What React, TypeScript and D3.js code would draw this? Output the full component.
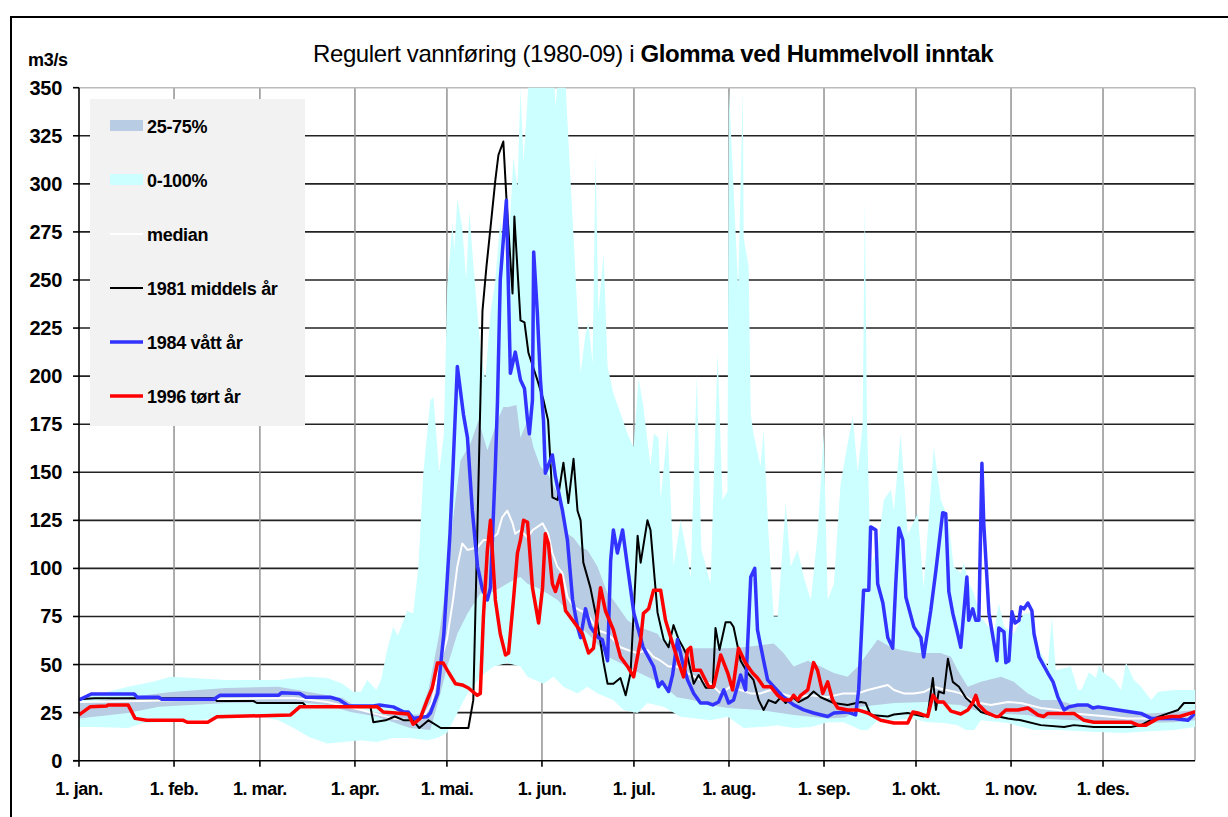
import React from 'react';
import * as d3 from 'd3';

type P = [number, number];

const monthLabels = ['1. jan.', '1. feb.', '1. mar.', '1. apr.', '1. mai.', '1. jun.', '1. jul.', '1. aug.', '1. sep.', '1. okt.', '1. nov.', '1. des.'];
const monthStarts = [0, 31, 59, 90, 120, 151, 181, 212, 243, 273, 304, 334];
const yTicks = [0, 25, 50, 75, 100, 125, 150, 175, 200, 225, 250, 275, 300, 325, 350];

const titleNormal = 'Regulert vannføring (1980-09) i ';
const titleBold = 'Glomma ved Hummelvoll inntak';
const yUnit = 'm3/s';

// 0-100% envelope
const maxFlow: P[] = [[0,33],[5,34],[16,38.5],[24,41],[30,43.6],[37,43],[48,42],[59,42],[65,42],[70,43],[75,43.6],[81,43],[86,40],[89.5,35.7],[92,36],[94,42],[97,36.8],[98.5,42],[100.5,57.6],[102.5,69.6],[104,65],[107,78],[109,76.6],[110.7,101],[112.3,149.5],[114.6,187.5],[115.6,189],[117.5,150],[119,170],[120.1,246],[121.8,279.5],[122.4,265],[123.4,292.5],[125,277],[126.3,250],[127.3,286],[128.6,258.6],[130.9,215],[132.5,198],[134.2,232.6],[135.8,250],[137.4,281],[139.1,257],[140.7,284.6],[141.7,314],[143,298],[144,350],[145,311],[146.6,352],[155,352],[155.5,340],[156,352],[158.7,352],[159.3,333],[160.9,284.6],[162.6,232.6],[163.6,201.5],[165.2,222],[166.2,227.5],[167.5,206.7],[168.5,316],[169.4,232.6],[171.1,264],[172.4,205],[174.3,191],[176.6,180.7],[178.9,170],[180.9,163],[182.5,199],[184.1,184],[186.4,153],[187.5,170],[189,168],[189.7,136],[192,173.5],[193.9,101],[196.2,125],[198.5,106],[199.5,95],[201.5,200.5],[203,110],[206,92],[208.3,212],[209.9,135.6],[211.5,140],[212,349],[215,246],[216.5,349],[216.8,272],[218.4,257],[219.1,180],[220,170],[222.3,153],[223.3,172],[224.9,118],[226.6,75],[227.9,75],[230.5,134],[232.1,101],[234.4,109.6],[236.4,95.5],[238.7,83.6],[240.9,118],[242.9,170],[244.2,83.6],[246.2,92],[248.4,144],[250.7,165],[252.4,179],[254,150],[255.6,175],[256.3,291.6],[257,178],[258.2,101],[260.5,111],[262.5,135.6],[264.8,141],[265.8,130],[268,170],[270.3,118],[273.6,128.5],[275.5,90],[278.8,163],[281.1,135.6],[283.4,126.5],[285.3,101],[287.6,97.5],[288.6,103],[289.9,94],[291.9,87],[294,75],[298.4,66],[300,82],[301.7,69.6],[304.9,66],[308.2,76.6],[311,76.6],[312.8,59],[316,49],[317.3,75],[318.6,47],[320.9,48],[323.5,49],[325.8,36.8],[327,37],[329.4,46],[331.7,43],[332.7,49.7],[334,46],[337.6,42],[339.9,36.8],[341.5,51],[344.1,42],[346.4,38.5],[349.7,31.6],[351.9,35.7],[357.2,36.8],[364,36.8]];
const minFlow: P[] = [[0,17.5],[5,17.5],[16,17],[21,19.6],[26,20],[37,21],[48,22],[59,22.8],[65,21],[70,17],[75,12.3],[81,9],[86,9.7],[92,10.7],[97,9.7],[102.5,11.8],[108,11.8],[113.6,10.7],[117,12],[120,14.4],[123.4,24.8],[126.7,35],[130.9,43.6],[135.2,49],[139.7,50.8],[144,49],[146.3,43.6],[151.5,40],[154.8,43.6],[158,38.5],[162.6,35],[165.8,38.5],[169.1,35],[174.3,31.6],[177.6,26.4],[182.2,24.8],[185.4,30],[190.7,28],[196.2,22.8],[206,21],[211.6,22.8],[216.8,17],[222.3,17.5],[227.9,18.5],[233.1,17],[238.7,17.5],[244.2,20],[249.4,20],[255,16],[257.3,16],[260.5,21],[265.8,21],[271.3,22],[276.8,20],[282.1,19.6],[286.6,18.5],[289.3,16],[291.9,16],[294.2,21],[303,19.6],[311.5,16],[319.3,16],[330.1,15],[340.8,14.4],[346.4,15],[357.2,16],[364,17.5]];

// 25-75% band
const q75: P[] = [[0,30],[16,33],[30,35.7],[48,37.8],[65,38.5],[75,35.7],[86,32.6],[92,26.4],[102.5,23.8],[111,24],[114,37],[117.5,66],[120.1,95.5],[122.1,126.5],[124.4,156],[127.7,165],[130.3,177],[133.2,161.5],[136.5,177],[138.4,184],[140,184],[142.7,185],[144,168],[146.3,177],[148.2,163],[150.5,153],[152.8,149.5],[157,135.6],[159.3,118],[161.3,116],[163.6,111],[165.8,109.6],[169.1,101],[172.4,87],[174.3,83.6],[178.9,73],[182.2,69.6],[185.4,68],[188.7,66],[190,63],[195.2,57.6],[200.5,58.5],[211.6,58.5],[216.8,59],[222.3,60],[226.6,61],[229.8,56],[233.1,49],[237.7,52],[241.9,49],[246.2,45.6],[250.7,43.6],[254,49],[257.3,56],[260.5,63],[264.8,59],[268,57.6],[273.6,56],[281,56],[284.4,54],[286.6,47],[289.9,38.5],[294.2,41],[300.7,43.6],[304.9,41],[309.5,35],[313.7,31.6],[319.3,31.6],[324.5,29],[330.1,28],[335.6,26.4],[342,25.3],[348.7,24.6],[357.2,25.3],[364,26.4]];
const q25: P[] = [[0,22],[16,24.8],[26,28],[48,30],[70,30.5],[81,29],[88.5,25.3],[97,23],[108,17],[114.6,16],[117.9,35],[120.1,49],[123.4,66],[126.7,76.6],[130.9,87],[134,87],[137.4,90],[141.7,94],[144,95.5],[146.3,92],[149.5,90],[152.8,87],[156.1,83.6],[159.3,78],[163.6,69.6],[167.8,63],[172.4,54],[176.6,50.8],[180.9,47],[185.4,43.6],[190,40],[195,33],[200,31.6],[206,29],[211.6,27.4],[222.3,26.4],[233.1,23.8],[244.2,22],[250,22.5],[255,28],[266,30],[276.8,30.5],[282,29.5],[287.6,29],[291.9,26.4],[297.4,24.6],[309.5,23.8],[313.7,22],[324.5,21],[335.6,20],[346.4,19.6],[357.2,20],[364,21]];

const median: P[] = [[0,30.5],[20,31],[44,32],[70,32.6],[81,30.5],[92,26.4],[102.5,22],[108,21],[112,22],[115,30],[118,52],[120,63],[122,83.6],[123.4,101],[125,113],[126.7,109.6],[130,111],[132,114.8],[134,114.8],[136.5,118],[138,126.5],[139.7,130],[141.4,123.5],[142.3,118],[144,120],[146.3,116],[148,120],[149.5,121.6],[151.2,123.5],[153,118],[154.4,108],[156,101],[157.7,97.5],[159.3,85],[161.3,80],[163.6,78],[165.8,76.6],[169,68],[172.4,66],[174.3,63],[176.6,59],[179,57.6],[182,56],[185.4,57.6],[187.4,54],[189.7,52],[192.3,49],[195,49],[198.5,45.6],[202.7,42],[206,40],[209.3,35],[212.5,38.5],[215.8,36.8],[219,35],[222.3,35],[225.6,36.8],[229,35],[233,33],[238.7,34],[244,33],[249.4,35],[254,35],[257.3,36.8],[261.5,38.5],[263.8,39.4],[265.8,36.8],[269,35],[272.3,35],[275.5,35.7],[278.8,38.5],[282,37],[285.3,36],[287.6,35],[291.9,30.5],[297.4,29],[303,30.5],[307.2,30],[313.7,27.4],[319.3,26.4],[324.5,24.6],[330,23.8],[335.6,23],[342,22],[349,22],[357,23],[364,23.8]];

const y1981: P[] = [[0,32],[5,32.5],[44,32.5],[45,31],[57,31],[58,30],[73,30],[74,28.5],[95,28.5],[96,20],[100,21],[103,23],[106,21],[109,21],[111,17],[114,21],[118,17],[127,17],[128.6,31.5],[129.9,118],[131.6,234],[132.9,257],[134.2,277],[135.8,302],[136.8,315],[138.4,322],[139.5,290],[141.4,243],[142,283],[144,229],[145.3,228],[146.6,212],[149.5,198],[151.5,187.5],[153,177],[154.4,137],[156.1,135.6],[158,155],[159.6,134],[161.3,157],[162.6,130],[163.6,125],[164.5,103],[166.8,90],[169.1,71.6],[171.1,51],[172.4,40],[174.3,40],[176.6,43],[178.3,34],[179.9,45.6],[182.2,117],[183.2,103],[185.4,125],[186.4,120],[188.7,77],[190.7,63],[192.3,59],[193.9,70.5],[195.6,63],[197,59],[198.5,54],[200.5,40],[202.1,44.6],[204.4,38],[206.7,38],[207.6,69],[208.9,57.6],[210.9,72],[212.5,72],[213.5,69.5],[215.8,52],[218.1,45.6],[220,42],[221.7,31.5],[223.3,26.4],[224.9,31.5],[227.2,30],[228.9,33],[230.5,30],[232.8,33],[234.7,30.5],[237.7,33],[239.6,36],[241.9,33],[246.2,30],[250.7,29],[255,30.5],[256.6,30],[258.2,23.8],[263.8,23],[265.8,24],[270.3,24.8],[275.5,23],[276.8,24],[278.5,43],[279.5,26.4],[280.4,36],[282.1,35],[283.4,53],[285,41],[287,38.5],[289.3,32.6],[291.9,29],[294.2,25.3],[297.4,23.8],[303,22],[307.2,21],[313.7,18.5],[321.3,17.5],[324.5,18.5],[331,17.5],[343.1,17.5],[346.4,18.5],[350.6,22],[355.2,24.6],[358.5,26.4],[360.4,30],[364,30]];

const y1984: P[] = [[0,31.6],[4,34.7],[18,34.7],[19,33],[26,33],[27,32],[44,32],[46,34],[65,34],[66,35.3],[72,35],[74,33],[82,33],[85,31.6],[88,28.4],[96,28.4],[98,29],[102.5,28],[106,25.3],[107.4,25.3],[109,22],[113.6,23],[114.6,24.8],[117,35],[119,66],[121,118],[122,153],[123.4,205],[125.4,180],[126.7,168],[128.3,130],[130,101],[131.6,89],[133.2,83.6],[134.2,90],[135.8,153],[136.5,187],[137.4,250],[139.4,291.5],[140.7,201.5],[142.3,212.5],[144,198],[145.3,193.6],[146.3,177],[146.9,170],[147.9,187.5],[148.3,264.6],[149.5,232.6],[150.5,198],[151.5,177],[152.1,149.5],[154.4,159],[155.4,147.6],[157.7,130],[159.3,114.8],[161,83.6],[162.6,69.6],[163.6,64],[165.2,79],[166.8,69.6],[169.4,64],[170.7,63],[172.4,52],[173.4,104],[174.3,120],[175.6,108],[177.3,120],[178.9,101],[181,76.6],[184,59],[187.4,49],[189,38.5],[190.2,41],[192.3,36],[193.6,44.6],[195.2,63],[196.9,50.8],[198.5,42],[200.5,35],[202.7,30],[205,30],[206.7,29],[208.6,30.5],[210.3,36.8],[211.9,30],[213.5,31.6],[215.8,44.6],[217.4,36.8],[219.1,95.5],[220.4,100],[221.3,68],[223.3,52],[224.6,42],[226.6,38.5],[229.8,33],[233.1,29],[236.4,26.4],[239.6,24.8],[244.2,23],[246.2,24.8],[250.7,25.3],[253.3,23.8],[254.3,36.8],[255.9,88.7],[257.6,88.7],[258.2,121.6],[259.9,120],[260.5,92],[262.2,82],[263.8,64],[265.4,58.5],[266.4,92],[267.4,121],[268.7,114.8],[269.7,85],[272.3,69.6],[274.6,64],[275.5,54],[277.8,78],[279.5,99],[281.7,129],[282.7,128.5],[283.7,88],[285,76.6],[286.6,66],[287.6,59],[289.6,95.5],[290.2,73],[291.5,79],[292.5,73],[293.5,73],[294.5,154.7],[295.1,123.5],[296.8,76.6],[299.4,52],[300,69],[301.7,67],[302.3,51],[303.3,52],[304.3,77.4],[305.3,71.6],[306.6,73],[307.2,80],[308.2,79],[309.5,82],[310.8,78],[311.5,66],[313.1,54],[316,45.6],[317.7,41],[319.3,33],[321.3,26.4],[322.9,28],[325.8,29],[329,29],[330.7,27.4],[332.4,28],[338.9,26.4],[346.4,24.6],[349.7,22],[357.2,22],[361.7,21],[364,24.6]];

const y1996: P[] = [[0,23.8],[3.6,28],[9,28.4],[9.5,29],[16,29],[18.3,22],[22,21],[34,21],[35.3,20],[42,20],[45,22.8],[69,23.8],[72,28],[97.3,28],[99.2,25.3],[107.4,24.3],[109,19],[111.3,22],[113.6,31.6],[115.2,37.8],[116.9,50.8],[118.8,50.8],[120.5,46],[122.8,40],[125,39.4],[127,37.8],[129.9,34],[130.9,35],[131.9,74.7],[133.2,109.6],[134.2,125],[135.8,83.6],[137.4,66],[139.1,55],[140.1,56],[141.7,83.6],[143,108],[144,114.8],[145,125],[146.3,124],[147.9,90],[149.9,71.6],[151.2,90],[152.1,118],[153.1,113],[154.4,92],[155.4,88],[157,96.5],[158.7,78],[161,73],[162.6,69.6],[164.2,66],[166.2,56],[167.8,58.5],[170.1,90],[171.7,78],[174.3,68],[176.6,54],[178.9,49],[180.9,43.6],[183.2,63],[184.1,76.6],[185.8,79],[187.4,88.7],[189.7,88.7],[191.3,73],[193.6,61],[195.6,50.8],[197.2,43.6],[198.5,57.6],[199.5,59],[200.5,47],[202.7,47],[205.4,38.5],[207,38.5],[209.3,55],[211.6,45.6],[213.2,36.8],[215.1,58.5],[217.4,50.8],[219.7,45.6],[221.3,43],[223.3,38.5],[225.6,38.5],[227.9,34],[229.8,31.6],[232.1,31.6],[233.1,34],[234.4,31.6],[235.4,34],[237.7,36.8],[239.6,51],[240.9,47],[242.6,35],[244.2,41],[245.8,31.6],[247.5,27.4],[250.7,26.4],[254,26.4],[257.3,24.8],[261.5,21],[265.8,19.6],[270.3,19.6],[272,25.3],[273.6,24.8],[276.8,23],[278.5,34],[280.1,30.5],[282,30.5],[284.4,25.8],[287.6,24.3],[289.9,26.4],[291.5,30],[292.5,34],[293.5,29],[295.8,25.3],[299,23],[300,23],[302.3,26.4],[306.2,26.4],[309.5,27.4],[312.8,23.8],[314.7,23],[316,24.6],[324.5,24.6],[327.8,21],[331,20],[343.1,20],[345.4,18.5],[348,18.5],[351.9,22],[356.2,23],[359,23],[363.7,25.3],[364,25.3]];

const legendItems = [
  { label: '25-75%', kind: 'rect', color: '#b8cce4' },
  { label: '0-100%', kind: 'rect', color: '#ccffff' },
  { label: 'median', kind: 'line', color: '#ffffff', w: 2 },
  { label: '1981 middels år', kind: 'line', color: '#000000', w: 2 },
  { label: '1984 vått år', kind: 'line', color: '#3333ff', w: 3.5 },
  { label: '1996 tørt år', kind: 'line', color: '#ff0000', w: 3.5 },
];

const FONT = '"Liberation Sans", Arial, sans-serif';

export default function App() {
  const left = 79, right = 1195, top = 87.7, bottom = 760.7;
  const x = d3.scaleLinear().domain([0, 364]).range([left, right]);
  const y = d3.scaleLinear().domain([0, 350]).range([bottom, top]);
  const line = d3.line<P>().x(d => x(d[0])).y(d => y(d[1]));
  const band = (up: P[], lo: P[]) => line([...up, ...lo.slice().reverse()]) + 'Z';

  return (
    <svg width={1228} height={817} style={{ position: 'absolute', left: 0, top: 0, background: '#fff' }} fontFamily={FONT}>
      <defs>
        <clipPath id="plot"><rect x={left} y={top} width={right - left} height={bottom - top} /></clipPath>
      </defs>
      <rect x={0} y={0} width={1228} height={817} fill="#fff" />
      {/* outer frame */}
      <line x1={10} y1={17} x2={1228} y2={17} stroke="#000" strokeWidth={2} />
      <line x1={11} y1={16} x2={11} y2={817} stroke="#000" strokeWidth={2} />

      {/* title */}
      <text x={313} y={62} fontSize={24} fill="#000" letterSpacing={-0.4}>
        <tspan>{titleNormal}</tspan>
        <tspan fontWeight="bold">{titleBold}</tspan>
      </text>
      <text x={28} y={66} fontSize={18} fontWeight="bold" letterSpacing={-0.3}>{yUnit}</text>

      {/* grid */}
      {yTicks.slice(1, -1).map(t => (
        <line key={'h' + t} x1={left} x2={right} y1={y(t)} y2={y(t)} stroke="#222" strokeWidth={1.6} />
      ))}
      {monthStarts.slice(1).map(m => (
        <line key={'v' + m} x1={x(m)} x2={x(m)} y1={top} y2={bottom} stroke="#999" strokeWidth={1.6} />
      ))}
      <line x1={left} x2={right} y1={top} y2={top} stroke="#bbb" strokeWidth={1.6} />
      <line x1={right} x2={right} y1={top} y2={bottom} stroke="#aaa" strokeWidth={1.6} />

      <g clipPath="url(#plot)">
        <path d={band(maxFlow, minFlow)} fill="#ccffff" />
        <path d={band(q75, q25)} fill="#b8cce4" />
        <path d={line(median) || ''} fill="none" stroke="#fff" strokeWidth={2} strokeLinejoin="round" />
        <path d={line(y1981) || ''} fill="none" stroke="#000" strokeWidth={2} strokeLinejoin="round" />
        <path d={line(y1984) || ''} fill="none" stroke="#3333ff" strokeWidth={3.5} strokeLinejoin="round" />
        <path d={line(y1996) || ''} fill="none" stroke="#ff0000" strokeWidth={3.5} strokeLinejoin="round" />
      </g>

      {/* axes */}
      <line x1={left} x2={left} y1={top} y2={bottom} stroke="#000" strokeWidth={1.6} />
      <line x1={left - 6} x2={right} y1={bottom} y2={bottom} stroke="#000" strokeWidth={1.6} />
      {yTicks.map(t => (
        <g key={'yt' + t}>
          <line x1={left - 6} x2={left} y1={y(t)} y2={y(t)} stroke="#000" strokeWidth={1.6} />
          <text x={62} y={y(t) + 7} fontSize={20} fontWeight="bold" textAnchor="end" letterSpacing={-0.3}>{t}</text>
        </g>
      ))}
      {monthStarts.map((m, i) => (
        <g key={'xt' + m}>
          <line x1={x(m)} x2={x(m)} y1={bottom} y2={bottom + 6} stroke="#000" strokeWidth={1.6} />
          <text x={x(m)} y={795} fontSize={18} fontWeight="bold" textAnchor="middle" letterSpacing={-0.5}>{monthLabels[i]}</text>
        </g>
      ))}

      {/* legend */}
      <rect x={90} y={99} width={215} height={327} fill="#f2f2f2" />
      {legendItems.map((it, i) => {
        const cy = 126 + i * 54;
        return (
          <g key={it.label}>
            {it.kind === 'rect'
              ? <rect x={110} y={cy - 6} width={33} height={11} fill={it.color} />
              : <line x1={110} x2={143} y1={cy} y2={cy} stroke={it.color} strokeWidth={it.w} />}
            <text x={147} y={cy + 7} fontSize={18} fontWeight="bold" letterSpacing={-0.3}>{it.label}</text>
          </g>
        );
      })}
    </svg>
  );
}
